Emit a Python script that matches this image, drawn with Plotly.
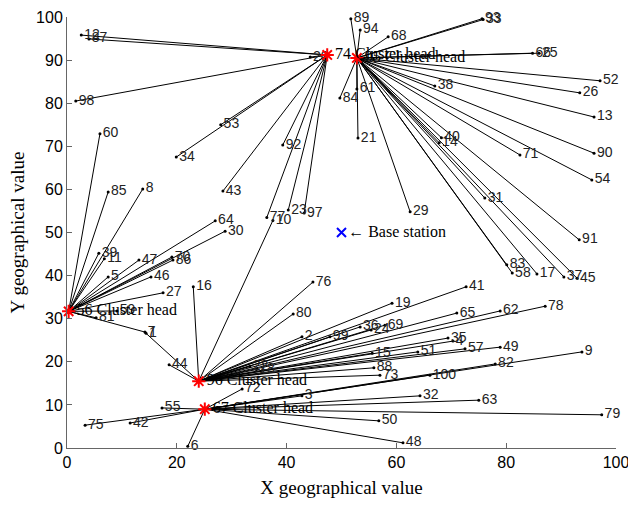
import plotly.graph_objects as go

# Cluster heads
head_id = [74, 95, 56, 96, 67]
head_x = [47.4, 52.8, 0.3, 24.0, 25.1]
head_y = [91.2, 90.5, 31.7, 15.5, 9.0]

# Ordinary nodes: id, x, y, cluster head id
node_id = [12, 87, 98, 53, 34, 20, 92, 43, 77, 23, 97,
           89, 94, 68, 93, 33, 66, 25, 52, 26, 13, 38, 40, 14, 71, 90, 54, 31, 91, 83, 58, 17, 37, 45, 61, 21, 29, 84,
           60, 85, 8, 64, 30, 39, 11, 47, 70, 86, 5, 46, 27, 59, 81, 7,
           1, 44, 16, 10, 76, 80, 19, 2, 99, 36, 24, 69, 15, 51, 88, 73, 41, 65, 62, 78, 35, 4, 57, 49, 22, 18,
           55, 75, 42, 6, 72, 3, 32, 63, 79, 50, 48, 100, 82, 9]
node_x = [2.6, 4.0, 1.6, 28.0, 19.9, 44.3, 39.3, 28.4, 36.4, 40.3, 43.2,
          51.7, 53.4, 58.5, 75.6, 75.8, 84.8, 86.0, 97.1, 93.4, 96.0, 67.0, 68.2, 67.8, 82.5, 96.0, 95.6, 76.1, 93.3, 80.1, 81.1, 85.6, 90.5, 92.9, 52.8, 53.0, 62.5, 49.7,
          6.0, 7.5, 13.8, 27.0, 28.8, 5.8, 6.8, 13.1, 19.1, 19.3, 7.5, 15.3, 17.5, 9.1, 5.3, 14.2,
          14.4, 18.6, 23.0, 37.5, 44.8, 41.2, 59.2, 42.8, 47.9, 53.4, 55.4, 57.9, 55.6, 63.9, 55.9, 57.0, 72.7, 71.0, 78.9, 87.1, 69.4, 70.3, 72.5, 78.9, 33.3, 34.5,
          17.3, 3.3, 11.5, 22.0, 31.9, 42.8, 64.3, 75.0, 97.4, 56.8, 61.2, 66.1, 78.0, 93.8]
node_y = [95.8, 94.9, 80.5, 75.0, 67.5, 90.7, 70.3, 59.6, 53.5, 55.2, 54.5,
          99.6, 97.0, 95.4, 99.6, 99.4, 91.6, 91.6, 85.2, 82.4, 76.8, 84.0, 72.0, 70.8, 68.0, 68.4, 62.2, 58.0, 48.3, 42.5, 40.6, 40.4, 39.7, 39.4, 83.3, 71.9, 54.8, 81.2,
          72.9, 59.4, 60.1, 52.7, 50.3, 45.2, 43.9, 43.6, 44.3, 43.6, 39.7, 39.7, 36.0, 31.8, 30.2, 26.9,
          26.6, 19.3, 37.4, 52.8, 38.5, 31.1, 33.6, 25.8, 25.8, 28.1, 27.4, 28.5, 22.0, 22.3, 18.6, 16.9, 37.4, 31.3, 31.8, 32.9, 25.5, 24.8, 23.0, 23.4, 18.9, 18.2,
          9.3, 5.3, 5.8, 0.4, 13.7, 12.1, 12.1, 11.1, 7.7, 6.3, 1.2, 16.9, 19.5, 22.3]
node_head = [74] * 11 + [95] * 27 + [56] * 16 + [96] * 26 + [67] * 14

base_x = [50.0]
base_y = [50.0]

x_ticks = [0, 20, 40, 60, 80, 100]
y_ticks = [0, 10, 20, 30, 40, 50, 60, 70, 80, 90, 100]

hx = dict(zip(head_id, head_x))
hy = dict(zip(head_id, head_y))
lx, ly = [], []
for nx, ny, h in zip(node_x, node_y, node_head):
    lx += [nx, hx[h], None]
    ly += [ny, hy[h], None]

fig = go.Figure()
fig.add_trace(go.Scatter(x=lx, y=ly, mode="lines", line=dict(color="black", width=1),
                         hoverinfo="skip", showlegend=False))
fig.add_trace(go.Scatter(x=node_x, y=node_y, mode="markers+text",
                         text=[str(i) for i in node_id], textposition="middle right",
                         textfont=dict(family="Liberation Sans, Arial", size=14, color="#222"),
                         marker=dict(color="black", size=3), cliponaxis=False, showlegend=False))
fig.add_trace(go.Scatter(x=head_x, y=head_y, mode="markers+text",
                         text=[f"{i} Cluster head" for i in head_id], textposition="middle right",
                         textfont=dict(family="Liberation Serif, Times New Roman", size=16, color="black"),
                         marker=dict(symbol="asterisk", size=11, line=dict(color="red", width=2), color="red"),
                         cliponaxis=False, showlegend=False))
fig.add_trace(go.Scatter(x=base_x, y=base_y, mode="markers+text",
                         text=["\u2190 Base station"], textposition="middle right",
                         textfont=dict(family="Liberation Serif, Times New Roman", size=16, color="black"),
                         marker=dict(symbol="x-thin", size=9, line=dict(color="blue", width=2)),
                         cliponaxis=False, showlegend=False))

axis_common = dict(showgrid=False, zeroline=False, showline=True, linecolor="#666", linewidth=1,
                   ticks="inside", ticklen=5, tickcolor="#666", mirror=False,
                   ticklabeloverflow="allow", automargin=False,
                   tickfont=dict(family="Liberation Sans, Arial", size=16, color="black"))
fig.update_xaxes(range=[0, 100], tickvals=x_ticks,
                 title=dict(text="X geographical value", standoff=10,
                            font=dict(family="Liberation Serif, Times New Roman", size=19, color="black")),
                 **axis_common)
fig.update_yaxes(range=[0, 100], tickvals=y_ticks,
                 title=dict(text="Y geographical value", standoff=6,
                            font=dict(family="Liberation Serif, Times New Roman", size=19, color="black")),
                 **axis_common)
fig.update_layout(width=628, height=505,
                  margin=dict(l=67, r=12, t=17, b=57, autoexpand=False),
                  plot_bgcolor="white", paper_bgcolor="white")
fig.write_html("out.html")
